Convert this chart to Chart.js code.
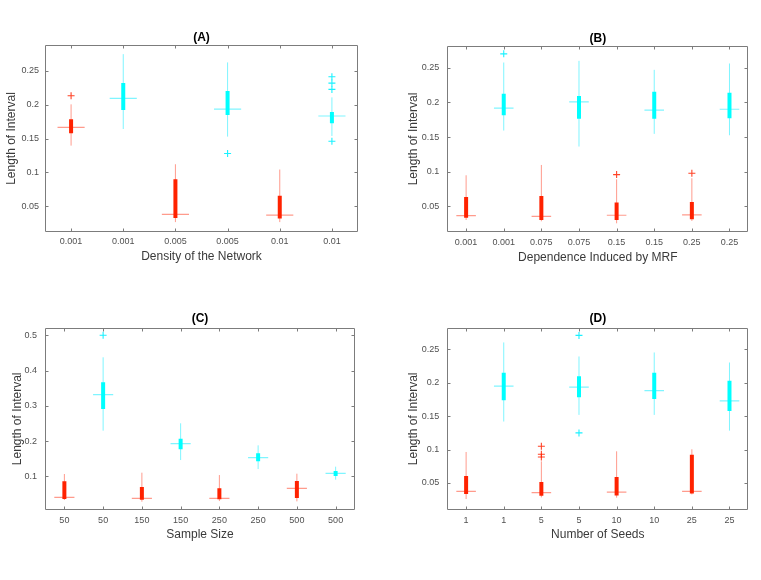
<!DOCTYPE html>
<html><head><meta charset="utf-8">
<script src="https://cdn.jsdelivr.net/npm/chart.js@4.4.0/dist/chart.umd.min.js"></script>
<style>
html,body{margin:0;padding:0;background:#fff;width:761px;height:580px;overflow:hidden}
.p{position:absolute}
</style></head><body>
<div class="p" style="left:0px;top:20px"><canvas id="cA" width="380" height="265"></canvas></div>
<div class="p" style="left:380px;top:20px"><canvas id="cB" width="381" height="265"></canvas></div>
<div class="p" style="left:0px;top:300px"><canvas id="cC" width="380" height="265"></canvas></div>
<div class="p" style="left:380px;top:300px"><canvas id="cD" width="381" height="265"></canvas></div>
<script>
// ---------- Panel A ----------
const aLabels = ['0.001','0.001','0.005','0.005','0.01','0.01'];
const aLo  = [0.1395,0.164,0.0266,0.1528,0.0266,0.1538];
const aQ1  = [0.1577,0.192,0.0325,0.1847,0.032,0.1724];
const aMed = [0.1665,0.2092,0.0379,0.1935,0.0369,0.1832];
const aQ3  = [0.1783,0.2318,0.090,0.220,0.0654,0.189];
const aHi  = [0.2004,0.2745,0.112,0.2623,0.1042,0.2107];
const aOut = [[0.2132],[],[],[0.1278],[],[0.2412,0.2318,0.2225,0.146]];
const aYTicks = [0.05,0.1,0.15,0.2,0.25];

// ---------- Panel B ----------
const bLabels = ['0.001','0.001','0.075','0.075','0.15','0.15','0.25','0.25'];
const bLo  = [0.0302,0.1594,0.0283,0.1363,0.0254,0.1546,0.0288,0.1526];
const bQ1  = [0.0336,0.1816,0.0302,0.1763,0.0302,0.1763,0.0312,0.1772];
const bMed = [0.0365,0.1917,0.0355,0.2008,0.037,0.1888,0.0375,0.1902];
const bQ3  = [0.0635,0.2124,0.065,0.2095,0.0553,0.2153,0.0562,0.2139];
const bHi  = [0.0948,0.2577,0.1097,0.2601,0.089,0.2471,0.0905,0.2563];
const bOut = [[],[0.2702],[],[],[0.0958],[],[0.0977],[]];
const bYTicks = [0.05,0.1,0.15,0.2,0.25];

// ---------- Panel C ----------
const cLabels = ['50','50','150','150','250','250','500','500'];
const cLo  = [0.0327,0.2295,0.028,0.1462,0.0298,0.1206,0.0289,0.0904];
const cQ1  = [0.0355,0.291,0.0336,0.1765,0.0346,0.1424,0.0384,0.1008];
const cMed = [0.0402,0.3316,0.0374,0.1926,0.0374,0.1528,0.0658,0.1083];
const cQ3  = [0.0857,0.3666,0.0696,0.2067,0.0658,0.1651,0.0866,0.115];
const cHi  = [0.1065,0.4376,0.1103,0.2503,0.1036,0.1878,0.1074,0.1273];
const cOut = [[],[0.5],[],[],[],[],[],[]];
const cYTicks = [0.1,0.2,0.3,0.4,0.5];

// ---------- Panel D ----------
const dLabels = ['1','1','5','5','10','10','25','25'];
const dLo  = [0.026,0.1418,0.0285,0.1517,0.028,0.1517,0.0329,0.1282];
const dQ1  = [0.0335,0.1737,0.031,0.1781,0.0314,0.1756,0.0344,0.1577];
const dMed = [0.0375,0.1946,0.0355,0.1931,0.0364,0.1881,0.0375,0.1727];
const dQ3  = [0.0604,0.2146,0.0514,0.2096,0.0589,0.2146,0.0923,0.2026];
const dHi  = [0.0963,0.26,0.0823,0.239,0.0973,0.245,0.1003,0.23];
const dOut = [[],[],[0.1048,0.0928,0.0888],[0.2705,0.1248],[],[],[],[]];
const dYTicks = [0.05,0.1,0.15,0.2,0.25];

const FONT = "'Liberation Sans', Helvetica, Arial, sans-serif";
const RED = 'rgb(255,34,0)', RED_L = 'rgba(255,34,0,0.45)', RED_O = 'rgba(255,34,0,0.85)';
const CYAN = 'rgb(0,255,255)', CYAN_L = 'rgba(0,235,255,0.5)', CYAN_O = 'rgba(0,240,255,0.9)';

function buildDatasets(lo, q1, med, q3, hi, out) {
  const groups = [
    {p:0, c:RED, l:RED_L, o:RED_O},
    {p:1, c:CYAN, l:CYAN_L, o:CYAN_O}
  ];
  const ds = [];
  groups.forEach(g => {
    const wh = [], bx = [], md = [], ou = [];
    for (let i = 0; i < lo.length; i++) {
      if (i % 2 !== g.p) continue;
      const x = i + 1;
      wh.push({x, y:lo[i]}, {x, y:hi[i]}, {x, y:null});
      bx.push({x, y:q1[i]}, {x, y:q3[i]}, {x, y:null});
      md.push({x:x-0.26, y:med[i]}, {x:x+0.26, y:med[i]}, {x, y:null});
      out[i].forEach(v => ou.push({x, y:v}));
    }
    ds.push({data:wh, showLine:true, borderColor:g.l, borderWidth:1, pointRadius:0, order:4, borderCapStyle:'butt'});
    ds.push({data:md, showLine:true, borderColor:g.l, borderWidth:1.2, pointRadius:0, order:3, borderCapStyle:'butt'});
    ds.push({data:bx, showLine:true, borderColor:g.c, borderWidth:4, pointRadius:0, order:2, borderCapStyle:'butt'});
    ds.push({data:ou, showLine:false, pointStyle:'cross', pointRadius:3.5, borderColor:g.o, backgroundColor:g.o, pointBorderWidth:1.1, order:1});
  });
  return ds;
}

const framePlugin = {
  id:'frame',
  afterDatasetsDraw(chart) {
    const {ctx, chartArea:{left, top, right, bottom}, scales:{x, y}} = chart;
    const L = Math.round(left)+0.5, R = Math.round(right)-0.5, T = Math.round(top)+0.5, B = Math.round(bottom)-0.5;
    ctx.save();
    ctx.strokeStyle = '#7c7c7c';
    ctx.lineWidth = 1;
    ctx.beginPath();
    ctx.rect(L, T, R-L, B-T);
    y.ticks.forEach(t => {
      const py = Math.round(y.getPixelForValue(t.value))+0.5;
      ctx.moveTo(L, py); ctx.lineTo(L+3, py);
      ctx.moveTo(R, py); ctx.lineTo(R-3, py);
    });
    x.ticks.forEach(t => {
      const px = Math.round(x.getPixelForValue(t.value))+0.5;
      ctx.moveTo(px, B); ctx.lineTo(px, B-3);
      ctx.moveTo(px, T); ctx.lineTo(px, T+3);
    });
    ctx.stroke();
    ctx.restore();
  }
};

function makePanel(id, cfg) {
  const canvas = document.getElementById(id);
  const W = canvas.width, H = canvas.height;
  const titleCenter = 18.3;
  const tpb = Math.max(0, cfg.T - titleCenter - 7.2);
  const layoutTop = cfg.T - 14.4 - tpb;
  new Chart(canvas, {
    type:'scatter',
    data:{datasets: buildDatasets(cfg.lo, cfg.q1, cfg.med, cfg.q3, cfg.hi, cfg.out)},
    options:{
      responsive:false, animation:false, devicePixelRatio: window.devicePixelRatio || 1,
      layout:{padding:{left:0, right:W-cfg.R, top:layoutTop, bottom:0}},
      plugins:{
        legend:{display:false}, tooltip:{enabled:false},
        title:{display:true, fullSize:false, text:cfg.title, color:'#000', font:{family:FONT, size:12, weight:'bold'}, padding:{top:0, bottom:tpb}}
      },
      scales:{
        x:{
          type:'linear', min:0.5, max:cfg.labels.length+0.5,
          grid:{display:false, drawTicks:false}, border:{display:false},
          afterBuildTicks: s => { s.ticks = cfg.labels.map((l, i) => ({value:i+1})); },
          ticks:{callback: v => cfg.labels[Math.round(v)-1], color:'#505050', font:{family:FONT, size:9}, padding:cfg.xtp, maxRotation:0, autoSkip:false},
          title:{display:true, text:cfg.xTitle, color:'#3a3a3a', font:{family:FONT, size:12}, padding:{top:0, bottom:H-cfg.B-cfg.xto-7.2}},
          afterFit: s => { s.height = H - cfg.B; }
        },
        y:{
          type:'linear', min:cfg.ymin, max:cfg.ymax,
          grid:{display:false, drawTicks:false}, border:{display:false},
          afterBuildTicks: s => { s.ticks = cfg.yticks.map(v => ({value:v})); },
          ticks:{callback: v => String(v), color:'#505050', font:{family:FONT, size:9}, padding:cfg.ytp},
          title:{display:true, text:'Length of Interval', color:'#3a3a3a', font:{family:FONT, size:12}, padding:{top:cfg.yto-7.2, bottom:0}},
          afterFit: s => { s.width = cfg.L; }
        }
      }
    },
    plugins:[framePlugin]
  });
}

makePanel('cA', {title:'(A)', xTitle:'Density of the Network', labels:aLabels, lo:aLo, q1:aQ1, med:aMed, q3:aQ3, hi:aHi, out:aOut,
  yticks:aYTicks, ymin:0.012, ymax:0.288, L:45, T:25, R:358, B:212, ytp:6, xtp:4.5, xto:24.7, yto:11.7});
makePanel('cB', {title:'(B)', xTitle:'Dependence Induced by MRF', labels:bLabels, lo:bLo, q1:bQ1, med:bMed, q3:bQ3, hi:bHi, out:bOut,
  yticks:bYTicks, ymin:0.0124, ymax:0.282, L:67.3, T:25.7, R:368.3, B:212.3, ytp:8, xtp:4.5, xto:25, yto:33.3});
makePanel('cC', {title:'(C)', xTitle:'Sample Size', labels:cLabels, lo:cLo, q1:cQ1, med:cMed, q3:cQ3, hi:cHi, out:cOut,
  yticks:cYTicks, ymin:0.0044, ymax:0.5216, L:45, T:27.7, R:355, B:210, ytp:8, xtp:5.5, xto:24.3, yto:17.3});
makePanel('cD', {title:'(D)', xTitle:'Number of Seeds', labels:dLabels, lo:dLo, q1:dQ1, med:dMed, q3:dQ3, hi:dHi, out:dOut,
  yticks:dYTicks, ymin:0.0096, ymax:0.282, L:67.3, T:27.7, R:368.3, B:210, ytp:8, xtp:5.5, xto:24.3, yto:33.3});
</script>
</body></html>
